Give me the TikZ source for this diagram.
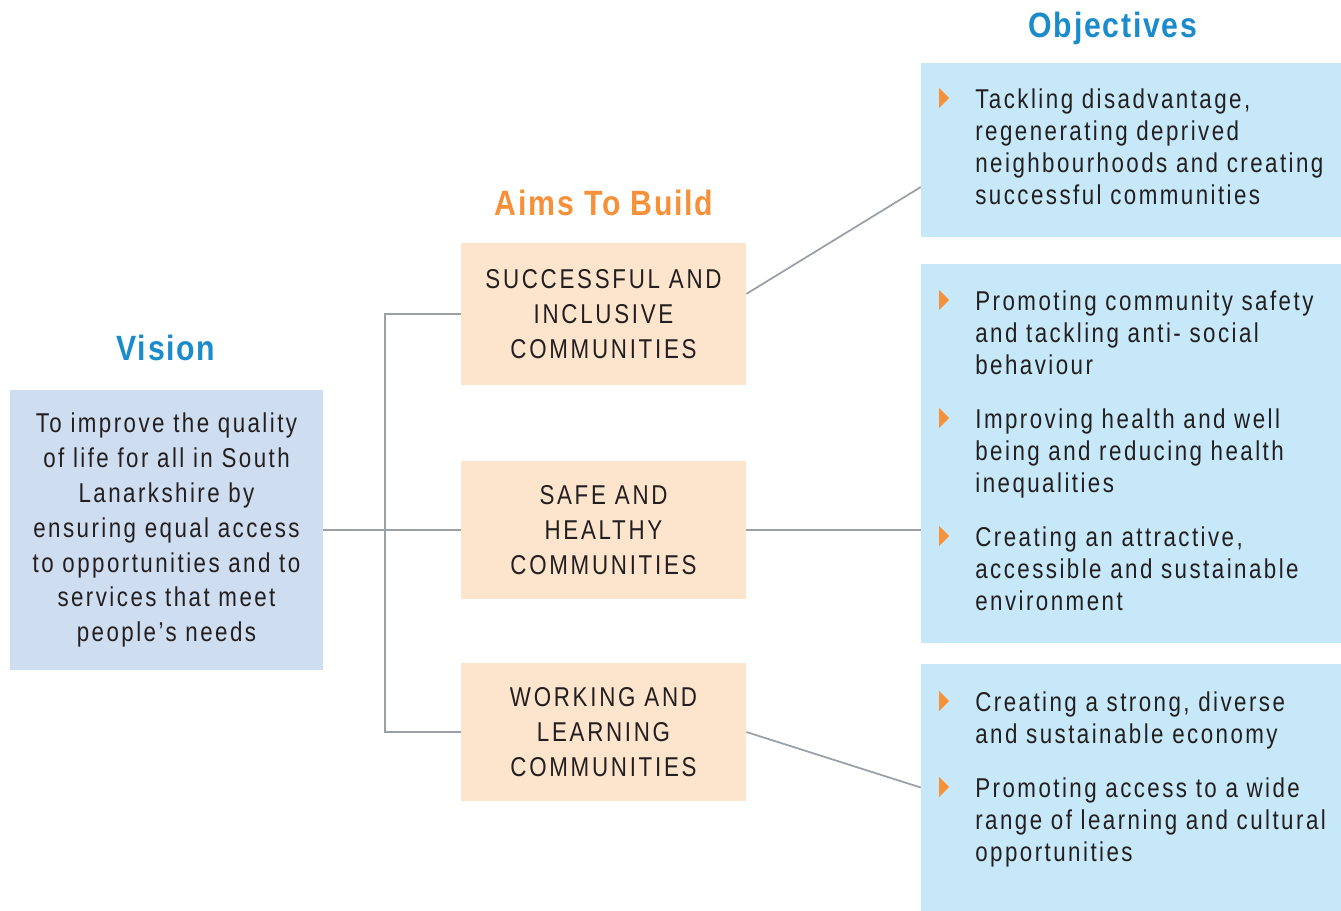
\documentclass[tikz,border=0pt]{standalone}
\usepackage{fontspec}
\setmainfont{Liberation Sans}[FakeStretch=0.82,LetterSpace=9]
\newfontfamily\capsfont{Liberation Sans}[FakeStretch=0.82,LetterSpace=10]
\newfontfamily\headfont{Liberation Sans}[FakeStretch=0.86,LetterSpace=5]
\usetikzlibrary{calc}
\usetikzlibrary{positioning}
\definecolor{visionblue}{HTML}{1A8BCB}
\definecolor{aimorange}{HTML}{F6913A}
\definecolor{visionfill}{HTML}{CFDDF1}
\definecolor{aimfill}{HTML}{FDE4CD}
\definecolor{objfill}{HTML}{C6E8F8}
\definecolor{linegray}{HTML}{9AA0A6}
\definecolor{inktext}{HTML}{231F20}

\tikzset{
    heading/.style={font=\headfont\fontsize{20}{24}\selectfont\bfseries},
    visionbox/.style={fill=visionfill, inner sep=0, minimum width=313*0.02cm, minimum height=280*0.02cm,
        align=center, text=inktext, font=\fontsize{15.5}{19.9}\selectfont},
    aimbox/.style={fill=aimfill, inner sep=0, minimum width=285*0.02cm, minimum height=140*0.02cm,
        align=center, text=inktext, font=\capsfont\fontsize{15.5}{19.9}\selectfont},
    objbox/.style={fill=objfill, inner sep=0, minimum width=420*0.02cm},
    objitem/.style={anchor=north west, inner sep=0, align=left, text=inktext,
        font=\fontsize{15.5}{18.2}\selectfont},
    link/.style={draw=linegray, line width=1pt}
}

\begin{document}
\begin{tikzpicture}[x=0.02cm,y=-0.02cm]
    \useasboundingbox (0,0) rectangle (1341,911);

    % headings
    \node[heading, text=visionblue] (tvision) at (166,348) {Vision};
    \node[heading, text=aimorange] (taims) at (604,203) {Aims To Build};
    \node[heading, text=visionblue] (tobj) at (1113,28) {Objectives};

    % vision
    \node[visionbox] (vision) at (166.5,530) {To improve the quality\\of life for all in South\\Lanarkshire by\\ensuring equal access\\to opportunities and to\\services that meet\\people’s needs};

    % aims
    \node[aimbox, minimum height=142*0.02cm] (aim1) at (603.5,314) {SUCCESSFUL AND\\INCLUSIVE\\COMMUNITIES};
    \node[aimbox, minimum height=138*0.02cm] (aim2) at (603.5,530) {SAFE AND\\HEALTHY\\COMMUNITIES};
    \node[aimbox, minimum height=138*0.02cm] (aim3) at (603.5,732) {WORKING AND\\LEARNING\\COMMUNITIES};

    % objectives
    \node[objbox, minimum height=174*0.02cm] (obj1) at (1131,150) {};
    \node[objbox, minimum height=379*0.02cm] (obj2) at (1131,453.5) {};
    \node[objbox, minimum height=247*0.02cm] (obj3) at (1131,787.5) {};

    \node[objitem] (o1) at (975,88) {Tackling disadvantage,\\regenerating deprived\\neighbourhoods and creating\\successful communities};
    \node[objitem] (o2) at (975,290) {Promoting community safety\\and tackling anti- social\\behaviour};
    \node[objitem] (o3) at (975,408) {Improving health and well\\being and reducing health\\inequalities};
    \node[objitem] (o4) at (975,526) {Creating an attractive,\\accessible and sustainable\\environment};
    \node[objitem] (o5) at (975,691) {Creating a strong, diverse\\and sustainable economy};
    \node[objitem] (o6) at (975,777) {Promoting access to a wide\\range of learning and cultural\\opportunities};

    \foreach \p in {o1,o2,o3,o4,o5,o6} {
        \fill[aimorange] ($(\p.north west)+(-36,0)$) -- ++(10,10) -- ++(-10,10) -- cycle;
    }

    % connectors
    \draw[link] (vision.east) -- (aim2.west);
    \draw[link] (aim1.west) -- ++(-76,0) |- (aim3.west);
    \draw[link] (aim1.8) -- (obj1.190);
    \draw[link] (aim2.east) -- (obj2.west |- aim2.east);
    \draw[link] (aim3.east) -- (obj3.west);
\end{tikzpicture}
\end{document}
